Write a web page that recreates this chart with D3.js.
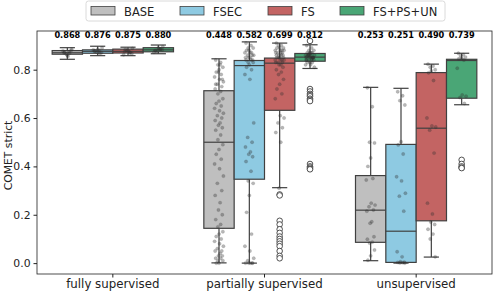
<!DOCTYPE html>
<html>
<head>
<meta charset="utf-8">
<script src="https://cdn.jsdelivr.net/npm/d3@7"></script>
<style>
  body { margin: 0; background: #fff; }
  svg { font-family: "DejaVu Sans", sans-serif; }
</style>
</head>
<body>
<div id="chart"></div>
<script>
const groups = ["fully supervised", "partially supervised", "unsupervised"];
const methods = ["BASE", "FSEC", "FS", "FS+PS+UN"];
const colors = ["#bfbfbf", "#8ecae2", "#c36463", "#4aa676"];

// mean labels above boxes, per group then method
const means = [
  ["0.868", "0.876", "0.875", "0.880"],
  ["0.448", "0.582", "0.699", "0.812"],
  ["0.253", "0.251", "0.490", "0.739"]
];

// box stats: [whisker low, q1, median, q3, whisker high]
const boxFully = [
  [0.843, 0.864, 0.870, 0.879, 0.891],
  [0.858, 0.868, 0.876, 0.882, 0.897],
  [0.858, 0.869, 0.876, 0.885, 0.893],
  [0.866, 0.874, 0.882, 0.891, 0.902]
];
const boxPartial = [
  [0.001, 0.144, 0.500, 0.713, 0.845],
  [0.000, 0.347, 0.817, 0.838, 0.915],
  [0.312, 0.632, 0.827, 0.848, 0.910],
  [0.805, 0.835, 0.852, 0.867, 0.903]
];
const boxUnsup = [
  [0.010, 0.086, 0.219, 0.362, 0.727],
  [0.000, 0.003, 0.132, 0.491, 0.723],
  [0.025, 0.175, 0.558, 0.788, 0.823],
  [0.655, 0.682, 0.838, 0.843, 0.868]
];

// strip points
const ptsFully = [
  [0.870, 0.875, 0.865, 0.880, 0.860, 0.872, 0.868, 0.878, 0.855, 0.884],
  [0.876, 0.880, 0.872, 0.870, 0.885, 0.878, 0.868, 0.882, 0.874, 0.890],
  [0.875, 0.870, 0.880, 0.866, 0.878, 0.884, 0.872, 0.862, 0.876, 0.888],
  [0.880, 0.885, 0.876, 0.882, 0.890, 0.878, 0.884, 0.872, 0.886, 0.895]
];
const ptsPartial = [
  [0.84, 0.83, 0.82, 0.81, 0.80, 0.79, 0.78, 0.77, 0.76, 0.75, 0.74, 0.73, 0.72, 0.82, 0.79, 0.76, 0.74, 0.71,
   0.70, 0.68, 0.67, 0.66, 0.65, 0.64, 0.63, 0.62, 0.61, 0.60, 0.59, 0.58, 0.57, 0.56, 0.55, 0.53, 0.51, 0.49,
   0.47, 0.45, 0.43, 0.41, 0.39, 0.36, 0.33, 0.30, 0.28, 0.25, 0.22, 0.20, 0.18, 0.16, 0.15,
   0.13, 0.12, 0.11, 0.10, 0.09, 0.08, 0.07, 0.06, 0.05, 0.05, 0.04, 0.03, 0.03, 0.02, 0.02, 0.01, 0.01, 0.00, 0.00],
  [0.91, 0.90, 0.89, 0.89, 0.88, 0.88, 0.87, 0.87, 0.87, 0.86, 0.86, 0.86, 0.85, 0.85, 0.85, 0.84, 0.84, 0.84,
   0.83, 0.83, 0.82, 0.81, 0.80, 0.78, 0.76, 0.58, 0.52, 0.50, 0.48, 0.46, 0.45, 0.44, 0.42, 0.38, 0.34, 0.33,
   0.28, 0.21, 0.12, 0.07, 0.05, 0.02, 0.01, 0.00, 0.00, 0.00, 0.00, 0.00],
  [0.91, 0.90, 0.90, 0.89, 0.89, 0.89, 0.88, 0.88, 0.88, 0.88, 0.87, 0.87, 0.87, 0.87, 0.86, 0.86, 0.86, 0.86,
   0.85, 0.85, 0.85, 0.85, 0.84, 0.84, 0.84, 0.84, 0.83, 0.83, 0.83, 0.82, 0.82, 0.81, 0.80, 0.79, 0.78, 0.76,
   0.74, 0.72, 0.70, 0.68, 0.61, 0.60, 0.58, 0.56, 0.54, 0.50, 0.31],
  [0.90, 0.89, 0.88, 0.88, 0.87, 0.87, 0.87, 0.86, 0.86, 0.86, 0.86, 0.85, 0.85, 0.85, 0.85, 0.85, 0.84, 0.84,
   0.84, 0.84, 0.83, 0.83, 0.83, 0.82, 0.82, 0.81, 0.86, 0.85, 0.84, 0.87, 0.86, 0.85, 0.855, 0.845, 0.865]
];
const ptsUnsup = [
  [0.725, 0.647, 0.500, 0.497, 0.435, 0.400, 0.350, 0.344, 0.248, 0.240, 0.233, 0.220, 0.215, 0.171, 0.165,
   0.109, 0.099, 0.087, 0.083, 0.054, 0.030, 0.012],
  [0.709, 0.692, 0.672, 0.654, 0.502, 0.489, 0.451, 0.357, 0.340, 0.289, 0.277, 0.215, 0.047, 0.026, 0.006,
   0.004, 0.003, 0.002, 0.001, 0.000],
  [0.823, 0.815, 0.810, 0.800, 0.795, 0.787, 0.755, 0.600, 0.567, 0.563, 0.550, 0.455, 0.248, 0.203, 0.170,
   0.160, 0.140, 0.120, 0.100, 0.026],
  [0.868, 0.862, 0.858, 0.852, 0.848, 0.845, 0.840, 0.806, 0.695, 0.690, 0.685, 0.660]
];

// outliers (open circles)
const outFully = [[], [], [], []];
const outPartial = [
  [], [],
  [0.284, 0.280, 0.175, 0.160, 0.140, 0.125, 0.110, 0.100, 0.090, 0.080, 0.070, 0.050, 0.030, 0.020],
  [0.919, 0.720, 0.710, 0.700, 0.695, 0.690, 0.680, 0.675, 0.670, 0.410, 0.400, 0.395, 0.390, 0.388]
];
const outUnsup = [[], [], [], [0.427, 0.410, 0.400, 0.395, 0.393]];

const yTicks = [0.0, 0.2, 0.4, 0.6, 0.8];

const boxes = [boxFully, boxPartial, boxUnsup];
const points = [ptsFully, ptsPartial, ptsUnsup];
const outliers = [outFully, outPartial, outUnsup];

const width = 493, height = 291;
const margin = {left: 37, right: 1, top: 31, bottom: 17};

const svg = d3.select("#chart").append("svg")
  .attr("width", width)
  .attr("height", height);

const x = d3.scaleBand()
  .domain(groups)
  .range([margin.left, width - margin.right]);

const xInner = d3.scaleBand()
  .domain(methods)
  .range([0, x.bandwidth() * 0.8]);

const y = d3.scaleLinear()
  .domain([-0.045, 0.96])
  .range([height - margin.bottom, margin.top]);

const edge = "#404040";
const jitter = [-3, 1.5, -1, 3.5, 0, -2.5, 2, -4, 0.5, 4, -1.5, 2.5, -3.5, 1, -0.5, 3];

groups.forEach((g, gi) => {
  const gx = x(g) + x.bandwidth() * 0.1;
  methods.forEach((m, mi) => {
    const bx = gx + xInner(m);
    const bw = xInner.bandwidth();
    const cx = bx + bw / 2;
    const [lo, q1, med, q3, hi] = boxes[gi][mi];
    const box = svg.append("g");

    box.append("line")
      .attr("x1", cx).attr("x2", cx)
      .attr("y1", y(q1)).attr("y2", y(lo))
      .attr("stroke", edge).attr("stroke-width", 1.2);
    box.append("line")
      .attr("x1", cx).attr("x2", cx)
      .attr("y1", y(q3)).attr("y2", y(hi))
      .attr("stroke", edge).attr("stroke-width", 1.2);
    [lo, hi].forEach(v => {
      box.append("line")
        .attr("x1", cx - bw / 4).attr("x2", cx + bw / 4)
        .attr("y1", y(v)).attr("y2", y(v))
        .attr("stroke", edge).attr("stroke-width", 1.2);
    });
    box.append("rect")
      .attr("x", bx).attr("width", bw)
      .attr("y", y(q3)).attr("height", Math.max(0.5, y(q1) - y(q3)))
      .attr("fill", colors[mi])
      .attr("stroke", edge).attr("stroke-width", 1.2);
    box.append("line")
      .attr("x1", bx).attr("x2", bx + bw)
      .attr("y1", y(med)).attr("y2", y(med))
      .attr("stroke", edge).attr("stroke-width", 1.2);

    svg.append("g").selectAll("circle")
      .data(outliers[gi][mi])
      .join("circle")
      .attr("cx", cx)
      .attr("cy", d => y(d))
      .attr("r", 2.8)
      .attr("fill", "#fff")
      .attr("stroke", edge)
      .attr("stroke-width", 0.9);

    svg.append("g").selectAll("circle")
      .data(points[gi][mi])
      .join("circle")
      .attr("cx", (d, i) => cx + jitter[i % jitter.length] * 1.1)
      .attr("cy", d => y(d))
      .attr("r", 1.7)
      .attr("fill", "rgba(50,50,50,0.35)")
      .attr("stroke", "rgba(50,50,50,0.25)")
      .attr("stroke-width", 0.4);

    svg.append("text")
      .attr("x", cx)
      .attr("y", 38)
      .attr("text-anchor", "middle")
      .attr("font-size", 8.2)
      .attr("font-weight", "bold")
      .text(means[gi][mi]);
  });
});

// frame
svg.append("rect")
  .attr("x", margin.left).attr("y", margin.top)
  .attr("width", width - margin.right - margin.left)
  .attr("height", height - margin.bottom - margin.top)
  .attr("fill", "none")
  .attr("stroke", "#222").attr("stroke-width", 0.8);

const yAxis = svg.append("g")
  .attr("transform", `translate(${margin.left},0)`)
  .call(d3.axisLeft(y).tickValues(yTicks).tickFormat(d3.format(".1f")).tickSize(3.5).tickPadding(3));
yAxis.select(".domain").remove();
yAxis.selectAll("text").attr("font-size", 10.8).attr("fill", "#222").attr("font-family", "DejaVu Sans");
yAxis.selectAll("line").attr("stroke", "#222");

const xAxis = svg.append("g")
  .attr("transform", `translate(0,${height - margin.bottom})`)
  .call(d3.axisBottom(x).tickSize(3.5).tickPadding(2));
xAxis.select(".domain").remove();
xAxis.selectAll("text").attr("font-size", 11.8).attr("fill", "#222").attr("font-family", "DejaVu Sans");
xAxis.selectAll("line").attr("stroke", "#222");

svg.append("text")
  .attr("transform", `translate(12,${(margin.top + height - margin.bottom) / 2 + 3}) rotate(-90)`)
  .attr("text-anchor", "middle")
  .attr("font-size", 10.8)
  .attr("fill", "#222")
  .text("COMET strict");

// legend
const legend = svg.append("g").attr("transform", "translate(86,1)");
legend.append("rect")
  .attr("width", 359).attr("height", 20).attr("rx", 2.5)
  .attr("fill", "#fff").attr("stroke", "#d0d0d0").attr("stroke-width", 0.8);
const legendX = [5, 94, 182, 254];
methods.forEach((m, i) => {
  legend.append("rect")
    .attr("x", legendX[i]).attr("y", 5.5)
    .attr("width", 24).attr("height", 8.5)
    .attr("fill", colors[i])
    .attr("stroke", edge).attr("stroke-width", 0.8);
  legend.append("text")
    .attr("x", legendX[i] + 33).attr("y", 14.5)
    .attr("font-size", 11.5)
    .attr("fill", "#222")
    .text(m);
});
</script>
</body>
</html>
